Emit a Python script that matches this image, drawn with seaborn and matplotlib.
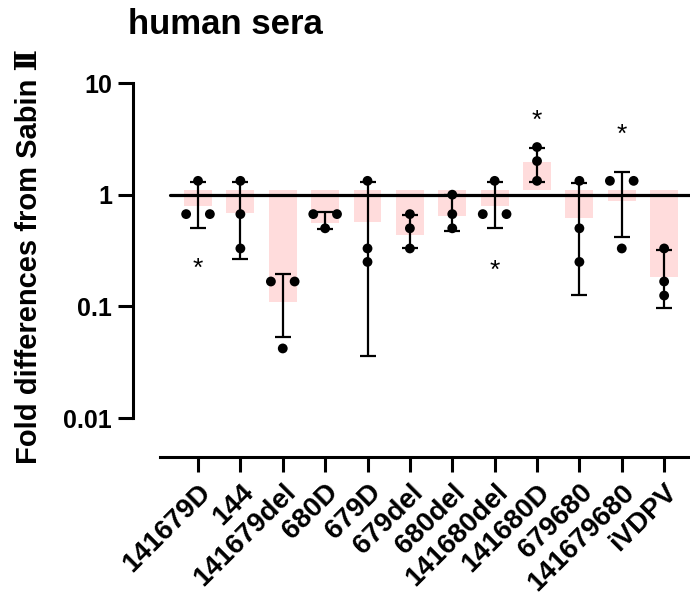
import numpy as np
import pandas as pd
import matplotlib
matplotlib.use("Agg")
import matplotlib.pyplot as plt
import seaborn as sns

categories = ["141679D", "144", "141679del", "680D", "679D", "679del",
              "680del", "141680del", "141680D", "679680", "141679680", "iVDPV"]
rep1 = [1.33, 1.33, 0.167, 0.67, 1.33, 0.67, 1.0, 1.33, 2.67, 1.33, 1.33, 0.33]
rep2 = [0.67, 0.67, 0.167, 0.67, 0.33, 0.5, 0.67, 0.67, 2.0, 0.5, 1.33, 0.167]
rep3 = [0.67, 0.33, 0.042, 0.5, 0.25, 0.33, 0.5, 0.67, 1.33, 0.25, 0.33, 0.125]
bar_means = [0.80, 0.69, 0.11, 0.56, 0.57, 0.44, 0.65, 0.80, 1.98, 0.62, 0.88, 0.185]
err_low = [0.50, 0.264, 0.053, 0.49, 0.036, 0.33, 0.47, 0.50, 1.31, 0.126, 0.42, 0.096]
err_high = [1.31, 1.31, 0.193, 0.70, 1.31, 0.66, 1.0, 1.31, 2.64, 1.28, 1.58, 0.318]
sig_groups = [0, 7, 8, 10]
sig_y = [0.227, 0.218, 4.87, 3.58]
yticks = [0.01, 0.1, 1, 10]
ytick_labels = ["0.01", "0.1", "1", "10"]
title = "human sera"
ylabel = "Fold differences from Sabin \u2161"

sns.set_style("ticks")
plt.rcParams["font.family"] = ["Liberation Sans", "DejaVu Serif"]
plt.rcParams["font.weight"] = "bold"
for k in ["text.color", "axes.labelcolor", "xtick.color", "ytick.color",
          "axes.edgecolor"]:
    plt.rcParams[k] = "black"

fig = plt.figure(figsize=(6.9, 5.99), dpi=100)
ax = fig.add_axes([133 / 690, 142 / 599, 557 / 690, 374 / 599])

xpos = np.arange(len(categories))
means = np.array(bar_means)
base = 1.1

ax.bar(xpos, means - base, bottom=base, width=0.66, color="#ffdcdc",
       edgecolor="none", zorder=1)
ax.axhline(1, xmin=0.066, xmax=1, color="black", lw=2.3, zorder=2)
ax.errorbar(xpos, means, yerr=[means - np.array(err_low), np.array(err_high) - means],
            fmt="none", ecolor="black", elinewidth=1.6, capsize=6, capthick=1.6, zorder=3)

rows = []
for i in range(len(categories)):
    vals = [rep1[i], rep2[i], rep3[i]]
    seen = {}
    for v in vals:
        cnt = vals.count(v)
        if cnt > 1:
            k = seen.get(v, 0)
            seen[v] = k + 1
            off = -0.28 if k == 0 else 0.28
        else:
            off = 0.0
        rows.append({"x": i + off, "value": v})
df = pd.DataFrame(rows)
sns.scatterplot(data=df, x="x", y="value", color="black", s=50,
                edgecolor="none", ax=ax, zorder=5, legend=False)

for g, yv in zip(sig_groups, sig_y):
    ax.text(g, yv, "*", ha="center", va="center_baseline", fontsize=19,
            fontweight="normal", color="black")

ax.set_yscale("log")
ax.set_ylim(0.00448, 10)
ax.set_xlim(-1.534, 11.61)
ax.set_yticks(yticks)
ax.set_yticklabels(ytick_labels)
ax.yaxis.set_minor_locator(matplotlib.ticker.NullLocator())
ax.set_xticks(xpos)
ax.set_xticklabels(categories, rotation=45, ha="right", va="top",
                   rotation_mode="anchor")
ax.tick_params(axis="both", length=11, width=2.2, color="black")
ax.tick_params(axis="y", labelsize=18, pad=4)
ax.tick_params(axis="x", labelsize=20, pad=5)

for s in ["top", "right"]:
    ax.spines[s].set_visible(False)
ax.spines["left"].set_bounds(0.01, 10)
ax.spines["bottom"].set_bounds(-0.897, 11.61)
for s in ["left", "bottom"]:
    ax.spines[s].set_linewidth(2.2)
    ax.spines[s].set_color("black")

ax.set_xlabel("")
ax.set_ylabel(ylabel, fontsize=21, fontweight="bold")
ax.yaxis.set_label_coords(-0.162, 0.537)

fig.text(128 / 690, 1 - 25 / 599, title, fontsize=25, fontweight="bold",
         ha="left", va="center")

fig.savefig("out.png", dpi=100)
